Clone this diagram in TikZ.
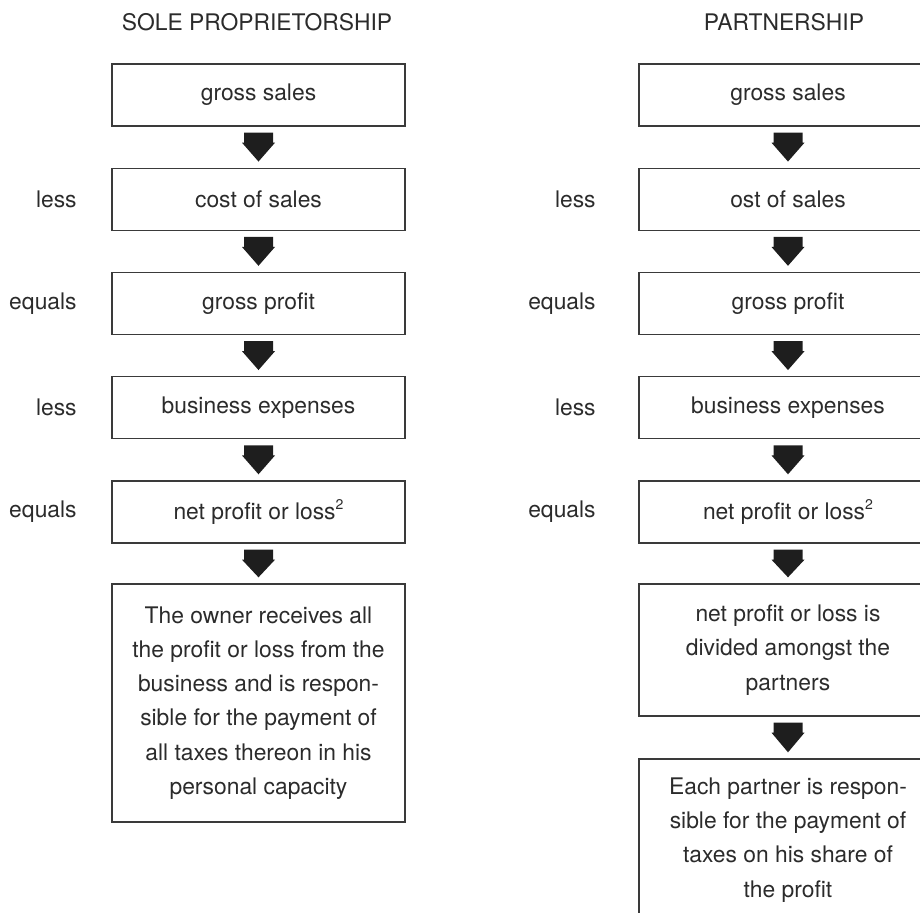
\documentclass[tikz,border=0pt]{standalone}
\usepackage{fontspec}
\setmainfont{TeX Gyre Heros}
\usetikzlibrary{calc}

\definecolor{ink}{HTML}{2B2B2B}
\definecolor{frame}{HTML}{3A3A3A}
\definecolor{arrowink}{HTML}{1E1E1E}

\tikzset{
  txt/.style={text=ink, font=\fontsize{13}{19.5}\selectfont},
  leftbox/.style={txt, draw=frame, line width=0.8pt, rectangle, inner sep=0pt,
    minimum width=5.86cm, align=center},
  rightbox/.style={txt, draw=frame, line width=0.8pt, rectangle, inner sep=0pt,
    minimum width=5.96cm, align=center},
  stage/.style={txt, anchor=east, inner sep=0pt},
  heading/.style={txt},
  arrowfill/.style={fill=arrowink}
}

% small raised footnote mark
\newcommand\fnmark[1]{\raisebox{0.45em}{\fontsize{8}{8}\selectfont #1}}

% block arrow from the bottom of one box to the top of the next
\newcommand\flowarrow[2]{%
  \fill[arrowfill]
    ($(#1.south)+(-14.5,6)$) -- ($(#1.south)+(14.5,6)$) --
    ($(#1.south)+(14.5,16)$) -- ($(#1.south)+(16.5,16)$) --
    ($(#2.north)+(0,-6)$) --
    ($(#1.south)+(-16.5,16)$) -- ($(#1.south)+(-14.5,16)$) -- cycle;}

\begin{document}
\begin{tikzpicture}[x=0.02cm, y=-0.02cm]
\useasboundingbox (0,0) rectangle (920,913);
\clip (0,0) rectangle (920,913);

% headings
\node[heading] (hsole) at (257,22) {SOLE PROPRIETORSHIP};
\node[heading] (hpart) at (784,22) {PARTNERSHIP};

% sole proprietorship column
\node[leftbox, minimum height=1.24cm] (s1) at (258.5,95) {gross sales};
\node[leftbox, minimum height=1.24cm] (s2) at (258.5,199.25) {cost of sales};
\node[leftbox, minimum height=1.24cm] (s3) at (258.5,303.5) {gross profit};
\node[leftbox, minimum height=1.24cm] (s4) at (258.5,407.75) {business expenses};
\node[leftbox, minimum height=1.24cm] (s5) at (258.5,512) {net profit or loss\fnmark{2}};
\node[leftbox, minimum height=4.76cm] (s6) at (258.5,703)
  {The owner receives all\\the profit or loss from the\\business and is respon-\\sible for the payment of\\all taxes thereon in his\\personal capacity};

\node[stage] (sl2) at (77,199.25) {less};
\node[stage] (sl3) at (77,303.5) {equals};
\node[stage] (sl4) at (77,407.75) {less};
\node[stage] (sl5) at (77,512) {equals};

\flowarrow{s1}{s2}
\flowarrow{s2}{s3}
\flowarrow{s3}{s4}
\flowarrow{s4}{s5}
\flowarrow{s5}{s6}

% partnership column
\node[rightbox, minimum height=1.24cm] (p1) at (788,95) {gross sales};
\node[rightbox, minimum height=1.24cm] (p2) at (788,199.25) {ost of sales};
\node[rightbox, minimum height=1.24cm] (p3) at (788,303.5) {gross profit};
\node[rightbox, minimum height=1.24cm] (p4) at (788,407.75) {business expenses};
\node[rightbox, minimum height=1.24cm] (p5) at (788,512) {net profit or loss\fnmark{2}};
\node[rightbox, minimum height=2.64cm] (p6) at (788,650)
  {net profit or loss is\\divided amongst the\\partners};
\node[rightbox, minimum height=3.24cm] (p7) at (788,840)
  {Each partner is respon-\\sible for the payment of\\taxes on his share of\\the profit};

\node[stage] (pl2) at (596,199.25) {less};
\node[stage] (pl3) at (596,303.5) {equals};
\node[stage] (pl4) at (596,407.75) {less};
\node[stage] (pl5) at (596,512) {equals};

\flowarrow{p1}{p2}
\flowarrow{p2}{p3}
\flowarrow{p3}{p4}
\flowarrow{p4}{p5}
\flowarrow{p5}{p6}
\flowarrow{p6}{p7}
\end{tikzpicture}
\end{document}
